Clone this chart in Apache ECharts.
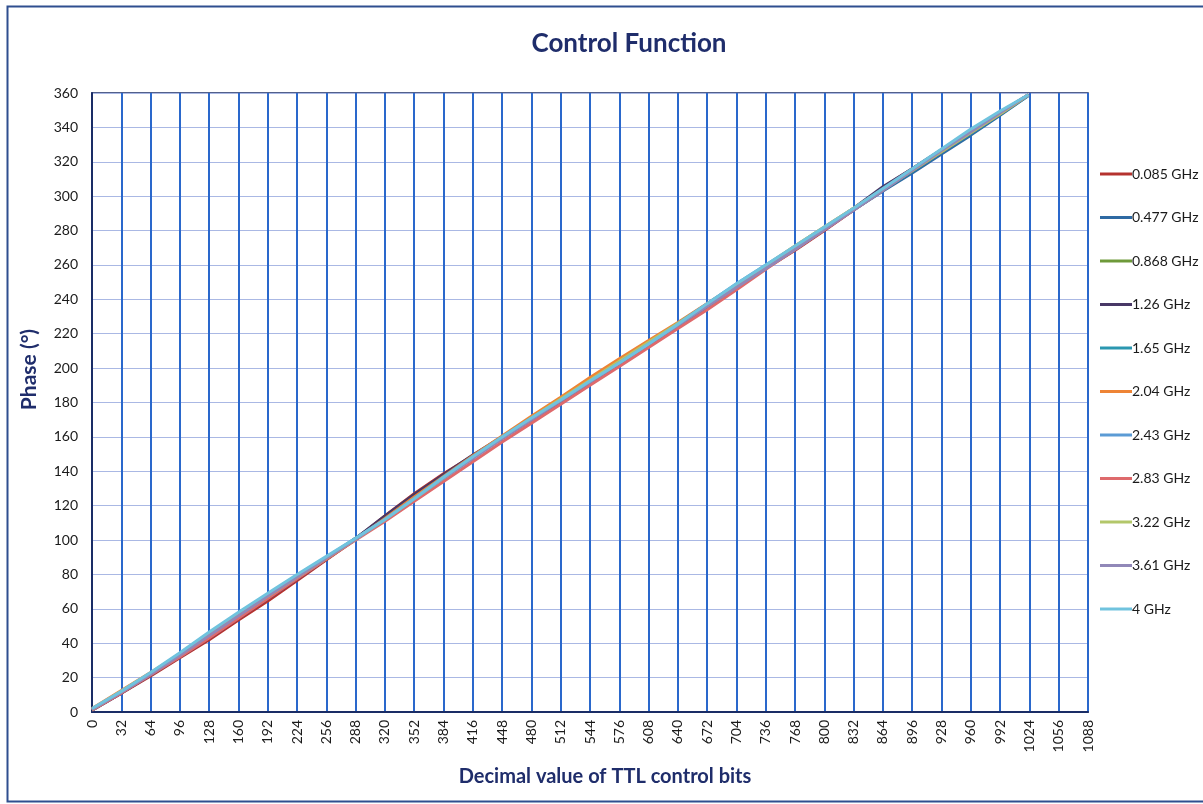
<!DOCTYPE html>
<html>
<head>
<meta charset="utf-8">
<script src="https://cdn.jsdelivr.net/npm/echarts@6/dist/echarts.min.js"></script>
<style>
html,body{margin:0;padding:0;background:#fff;}
#chart{width:1203px;height:804px;}
</style>
</head>
<body>
<div id="chart"></div>
<script>
const xValues = [0,32,64,96,128,160,192,224,256,288,320,352,384,416,448,480,512,544,576,608,640,672,704,736,768,800,832,864,896,928,960,992,1023];

const seriesNames = ['0.085 GHz','0.477 GHz','0.868 GHz','1.26 GHz','1.65 GHz','2.04 GHz','2.43 GHz','2.83 GHz','3.22 GHz','3.61 GHz','4 GHz'];
const seriesColors = ['#b5322e','#2e6aa3','#6e9a3a','#483866','#2a97b0','#ee8435','#5b9bd5','#de6a6c','#b3c76a','#9188b8','#70c3de'];

const phase_0085 = [1.5,11,21,31.5,42,53.5,64.5,76.5,88.5,100.5,114,127,138.5,149,159.5,170,180.5,191.5,202.5,214,225,236,247,258,268.5,280,292,305,316,327,338,348.5,359];
const phase_0477 = [1,11,21.5,32.5,43.5,55,66,77.5,89,100.5,112.5,125,136.5,148,159,170,180.5,191,202,213,224,235.5,247,258.5,270,281,292,303,313.5,324.5,335.5,347,358.5];
const phase_0868 = [1.5,11.5,22,33,44.5,56,67,78,89.5,101,113,125.5,137.5,149,160,171,181.5,192.5,203.5,214.5,225.5,237,248.5,259.5,270.5,281.5,292.5,304,315,326,337,348,359];
const phase_126 = [1,11,21.5,32,43,54.5,66,77.5,89,101,114,126.5,138,149.5,160,170.5,181,191.5,202.5,214,225,236.5,247.5,258.5,269.5,281,293,305.5,316,327,337.5,348.5,359];
const phase_165 = [1.5,11.5,22,33.5,45,56.5,67.5,78.5,89.5,100.5,112,124,136.5,148,159.5,170.5,181,192,203,214,225,236.5,248,259,270,281,292,303.5,314.5,325.5,336.5,347.5,358.5];
const phase_204 = [2,12.5,23,33.5,44.5,56,67,78,89,100.5,112.5,125,137,149,160.5,172,183,194.5,205.5,216,226.5,237.5,248.5,259.5,271,282,293,304,315,326,337,348,359];
const phase_243 = [1.5,11.5,22.5,34,46,57.5,68.5,79.5,90,101,112,124,136.5,148.5,160,171,181.5,192.5,203.5,214.5,226,237.5,249,260,270.5,281.5,292.5,304,315,326.5,338,349,359];
const phase_283 = [1,11,21.5,32,43,54.5,66,77.5,89,100,111,122.5,134,145.5,157,168,179,190,201,212,223,234,245.5,257.5,269,280.5,292,303.5,315,326,337,348,359];
const phase_322 = [1.5,12,22.5,33.5,45,56.5,67.5,78.5,89.5,100.5,112,124,136,148,159.5,171,182,193,204,215,226,237,248,259.5,271,282,293,304,315,326,337,348,359];
const phase_361 = [1.5,11.5,22,33,44.5,56,67.5,78.5,89.5,100.5,112,124,136,147.5,159,170,181,192,203,214,225,236,247,258,269,280.5,292,303.5,315,326.5,337.5,348.5,359];
const phase_4 = [2,12,23,34.5,46.5,58,69,80,90.5,101,112,124,136.5,148.5,160,171,181.5,192.5,203,214,225.5,237.5,249,260,271,282,293,304.5,316,327.5,339,349.5,359];

const allPhases = [phase_0085,phase_0477,phase_0868,phase_126,phase_165,phase_204,phase_243,phase_283,phase_322,phase_361,phase_4];

const navy = '#1f2d6b';
const font = 'Lato, "Liberation Sans", sans-serif';

const chart = echarts.init(document.getElementById('chart'));
chart.setOption({
  animation: false,
  backgroundColor: '#ffffff',
  title: {
    text: 'Control Function',
    left: 624, top: 26, textAlign: 'center',
    textStyle: {fontFamily: font, fontSize: 26, fontWeight: 'bold', color: navy}
  },
  graphic: [{
    type: 'rect', left: 5, top: 4, silent: true,
    shape: {width: 1205, height: 795},
    style: {fill: 'none', stroke: '#2f4f8f', lineWidth: 2}
  }],
  legend: {
    orient: 'vertical', left: 1095, top: 162,
    icon: 'rect', itemWidth: 32, itemHeight: 3, itemGap: 29.5,
    textStyle: {fontFamily: font, fontSize: 14, color: '#1a1a1a', padding: [0,0,0,-5]},
    data: seriesNames
  },
  grid: {left: 92, right: 115, top: 93, bottom: 92, show: true, borderColor: '#1a2d66', borderWidth: 1.5, backgroundColor: 'transparent'},
  xAxis: {
    type: 'value', min: 0, max: 1088, interval: 32,
    name: 'Decimal value of TTL control bits', nameLocation: 'middle', nameGap: 55,
    nameTextStyle: {fontFamily: font, fontSize: 20, fontWeight: 'bold', color: navy, padding: [0,0,0,30]},
    axisLine: {show: true, lineStyle: {color: '#1a2d66', width: 2}},
    axisTick: {show: false},
    axisLabel: {rotate: 90, fontFamily: font, fontSize: 14, color: '#1a1a1a', margin: 8, formatter: v => String(v)},
    splitLine: {show: true, lineStyle: {color: '#2a68cc', width: 2}}
  },
  yAxis: {
    type: 'value', min: 0, max: 360, interval: 20,
    name: 'Phase (°)', nameLocation: 'middle', nameGap: 52,
    nameTextStyle: {fontFamily: font, fontSize: 21, fontWeight: 'bold', color: navy, padding: [0,0,0,66]},
    axisLine: {show: true, lineStyle: {color: '#1a2d66', width: 2}},
    axisTick: {show: false},
    axisLabel: {fontFamily: font, fontSize: 14, color: '#1a1a1a', margin: 14},
    splitLine: {show: true, lineStyle: {color: '#aab8e4', width: 1}}
  },
  series: seriesNames.map((name, i) => ({
    name: name, type: 'line', showSymbol: false, symbol: 'none',
    color: seriesColors[i],
    lineStyle: {width: 3, color: seriesColors[i]},
    data: xValues.map((x, j) => [x, allPhases[i][j]])
  }))
});
</script>
</body>
</html>
